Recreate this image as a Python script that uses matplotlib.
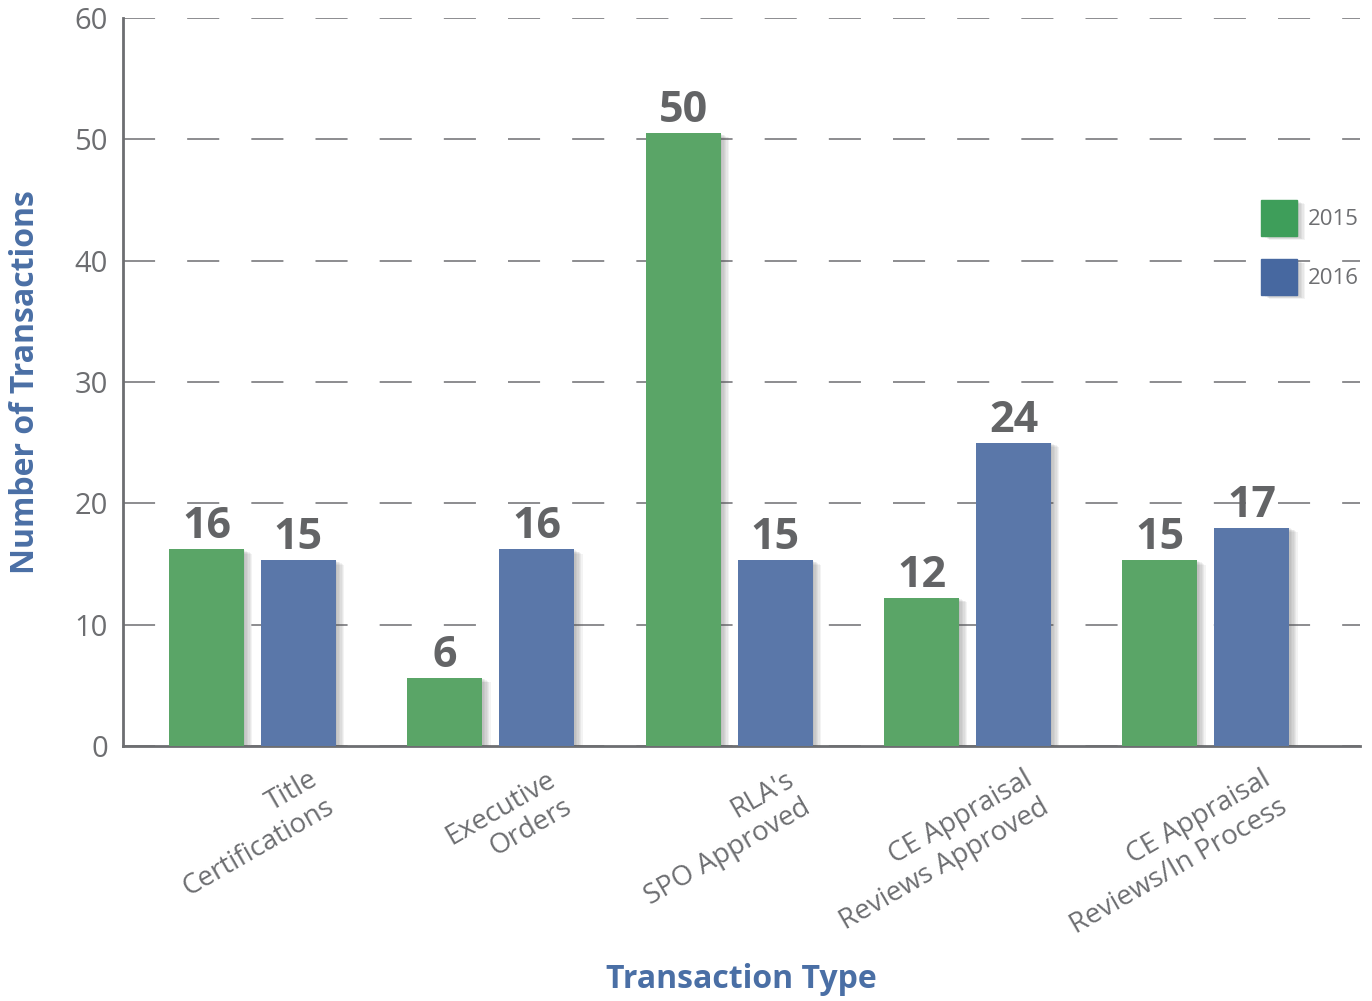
import matplotlib
matplotlib.use("Agg")
import matplotlib.pyplot as plt
import matplotlib.patheffects as pe
from matplotlib.transforms import ScaledTranslation
import numpy as np

plt.rcParams['font.family'] = ['Open Sans', 'DejaVu Sans']

# data
categories = ['Title\nCertifications', 'Executive\nOrders', "RLA's\nSPO Approved",
              'CE Appraisal\nReviews Approved', 'CE Appraisal\nReviews/In Process']
heights_2015 = [16.2, 5.6, 50.5, 12.2, 15.3]
heights_2016 = [15.3, 16.2, 15.3, 25.0, 18.0]
labels_2015 = ['16', '6', '50', '12', '15']
labels_2016 = ['15', '16', '15', '24', '17']
yticks = [0, 10, 20, 30, 40, 50, 60]

green = '#5aa567'
blue = '#5a77a9'
grey = '#6d6e71'
title_blue = '#4a6fa5'

fig = plt.figure(figsize=(13.72, 10.01), dpi=100)
ax = fig.add_axes([0.0897, 0.2547, 0.9013, 0.7273])

x = np.arange(len(categories))
w = 0.315
off = 0.193

# soft drop shadow built from a few stacked translucent copies
shadow = [pe.SimplePatchShadow(offset=(o, -o * 0.5), shadow_rgbFace='#555555', alpha=0.07)
          for o in (1, 2, 3, 4, 5, 6)] + [pe.Normal()]

b1 = ax.bar(x - off, heights_2015, w, color=green, label='2015', zorder=3)
b2 = ax.bar(x + off, heights_2016, w, color=blue, label='2016', zorder=3)
for b in list(b1) + list(b2):
    b.set_path_effects(shadow)

for xi, h, lab in zip(x - off, heights_2015, labels_2015):
    ax.annotate(lab, (xi, h), xytext=(0, 8), textcoords='offset points', ha='center',
                va='baseline', fontsize=31, fontweight='bold', color='#636466', zorder=4)
for xi, h, lab in zip(x + off, heights_2016, labels_2016):
    ax.annotate(lab, (xi, h), xytext=(0, 8), textcoords='offset points', ha='center',
                va='baseline', fontsize=31, fontweight='bold', color='#636466', zorder=4)

ax.set_xlim(-0.543, 4.645)
ax.set_ylim(0, 60)
ax.set_yticks(yticks)
ax.yaxis.grid(True, color=grey, linestyle=(0, (21, 21)), linewidth=1.1, zorder=0)
ax.set_axisbelow(True)

for s in ['top', 'right']:
    ax.spines[s].set_visible(False)
for s in ['left', 'bottom']:
    ax.spines[s].set_color(grey)
    ax.spines[s].set_linewidth(2)

ax.tick_params(axis='y', length=0, pad=11, labelsize=21, labelcolor=grey)
ax.tick_params(axis='x', length=0, pad=14, labelsize=20, labelcolor=grey)
ax.set_xticks(x)
ax.set_xticklabels(categories, rotation=30, ha='right', multialignment='right')
for t in ax.get_xticklabels():
    t.set_transform(t.get_transform() + ScaledTranslation(0.86, 0, fig.dpi_scale_trans))

ax.set_ylabel('Number of Transactions', fontsize=23, fontweight='bold', color=title_blue, va='center')
ax.yaxis.set_label_coords(-0.079, 0.5)
ax.set_xlabel('Transaction Type', fontsize=23, fontweight='bold', color=title_blue, va='center')
ax.xaxis.set_label_coords(0.5, -0.321)

leg = ax.legend(handles=[plt.Rectangle((0, 0), 1, 1, color='#3e9e5a'),
                         plt.Rectangle((0, 0), 1, 1, color='#4768a0')],
                labels=['2015', '2016'], loc='upper left',
                bbox_to_anchor=(1261 / 1372, 1 - 200 / 1001), bbox_transform=fig.transFigure,
                frameon=False, fontsize=16, handlelength=1.6, handleheight=2.1,
                handletextpad=0.5, labelspacing=1.05, borderpad=0, borderaxespad=0)
for t in leg.get_texts():
    t.set_color(grey)
for p in leg.get_patches():
    p.set_path_effects(shadow)

fig.savefig('out.png', dpi=100)
